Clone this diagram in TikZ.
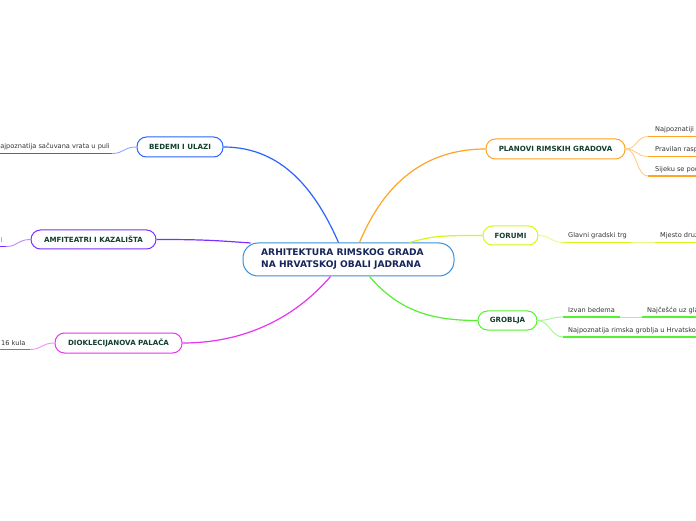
\documentclass[tikz,border=0pt]{standalone}
\usepackage{fontspec}
\setmainfont{DejaVu Sans}
\definecolor{cblue}{HTML}{2B63FF}
\definecolor{cpurple}{HTML}{7B30FF}
\definecolor{cmag}{HTML}{E834F2}
\definecolor{corange}{HTML}{FFA424}
\definecolor{cyellow}{HTML}{D8F51E}
\definecolor{cgreen}{HTML}{55F030}
\definecolor{ccentral}{HTML}{3A8FD8}
\definecolor{ctext}{HTML}{16255A}
\definecolor{ttext}{HTML}{123F2E}
\definecolor{stext}{HTML}{333333}
\tikzset{
  topic/.style={draw=#1, line width=1pt, fill=white, rounded corners=9.5pt, inner sep=0pt,
    font=\fontsize{7.1}{8}\selectfont\bfseries, text=ttext},
  mainbox/.style={draw=ccentral, line width=1pt, fill=white, rounded corners=15pt, inner sep=0pt,
    minimum width=211pt, minimum height=33pt},
  maintext/.style={align=left, inner sep=0pt, text=ctext, font=\fontsize{9.1}{12}\selectfont\bfseries},
  branch/.style={draw=#1, line width=1.2pt},
  subcon/.style={draw=#1!55!white, line width=0.9pt},
  uline/.style={draw=#1, line width=1.9pt},
  subtxt/.style={font=\fontsize{6.6}{7.5}\selectfont, text=stext, inner sep=0pt, anchor=base west}
}
\begin{document}
\begin{tikzpicture}[x=1pt,y=1pt]
\useasboundingbox (0,0) rectangle (696,520);
\clip (0,0) rectangle (696,520);
\fill[white] (0,0) rectangle (696,520);

% central node
\node[mainbox] (ctr) at (348.5,260.5) {};
\node[maintext, anchor=west] (ctrtxt) at (261,260.5) {ARHITEKTURA RIMSKOG GRADA\\NA HRVATSKOJ OBALI JADRANA};

% topic nodes
\node[topic=cblue, minimum width=86pt, minimum height=20pt] (bed) at (180,373) {BEDEMI I ULAZI};
\node[topic=cpurple, minimum width=125pt, minimum height=19pt] (amf) at (93.5,280.5) {AMFITEATRI I KAZALIŠTA};
\node[topic=cmag, minimum width=127pt, minimum height=20pt] (dio) at (118.5,177) {DIOKLECIJANOVA PALAČA};
\node[topic=corange, minimum width=139pt, minimum height=20pt] (plan) at (555.5,371) {PLANOVI RIMSKIH GRADOVA};
\node[topic=cyellow, minimum width=55pt, minimum height=19pt] (for) at (510.5,284.5) {FORUMI};
\node[topic=cgreen, minimum width=59pt, minimum height=19pt] (gro) at (507.5,199.5) {GROBLJA};

% main branches
\draw[branch=cblue] (bed.east) .. controls +(60,0) and +(-22,50) .. ([xshift=96pt]ctr.north west);
\draw[branch=cpurple] (amf.east) .. controls +(40,0) and +(-40,3) .. ([xshift=8pt,yshift=-0.5pt]ctr.north west);
\draw[branch=cmag] (dio.east) .. controls +(70,0) and +(-30,-35) .. ([xshift=88pt]ctr.south west);
\draw[branch=corange] ([xshift=117pt]ctr.north west) .. controls +(25,60) and +(-60,0) .. (plan.west);
\draw[branch=cyellow] ([xshift=167pt]ctr.north west) .. controls +(25,7) and +(-40,0) .. (for.west);
\draw[branch=cgreen] ([xshift=127pt]ctr.south west) .. controls +(30,-35) and +(-45,0) .. (gro.west);

% BEDEMI subtopic
\coordinate (b1e) at (112,366.5);
\coordinate (b1s) at (-2,366.5);
\node[subtxt, anchor=base east] (b1) at (110,371) {Najpoznatija sačuvana vrata u puli};
\draw[uline=cblue] (b1s) -- (b1e);
\draw[subcon=cblue] (bed.west) .. controls +(-13,0) and +(12,0) .. (b1e);

% AMFITEATRI subtopic
\coordinate (a1e) at (6,273.5);
\coordinate (a1s) at (-2,273.5);
\node[subtxt, anchor=base east, text=gray] (a1) at (2.6,277.5) {l};
\draw[uline=cpurple] (a1s) -- (a1e);
\draw[subcon=cpurple] (amf.west) .. controls +(-13,0) and +(12,0) .. (a1e);

% DIOKLECIJANOVA subtopic
\coordinate (d1e) at (30,170.5);
\coordinate (d1s) at (-2,170.5);
\node[subtxt] (d1) at (1,175) {16 kula};
\draw[uline=cmag] (d1s) -- (d1e);
\draw[subcon=cmag] (dio.west) .. controls +(-13,0) and +(12,0) .. (d1e);

% PLANOVI subtopics
\coordinate (p1s) at (648,383.5); \coordinate (p1e) at (698,383.5);
\coordinate (p2s) at (648,363.5); \coordinate (p2e) at (698,363.5);
\coordinate (p3s) at (648,344);   \coordinate (p3e) at (698,344);
\node[subtxt] (p1) at (655,388) {Najpoznatiji primjeri};
\node[subtxt] (p2) at (655,368) {Pravilan raspored ulica};
\node[subtxt] (p3) at (655,348.5) {Sijeku se pod pravim kutom};
\draw[uline=corange] (p1s) -- (p1e);
\draw[uline=corange] (p2s) -- (p2e);
\draw[uline=corange] (p3s) -- (p3e);
\draw[subcon=corange] (plan.east) .. controls +(12,0) and +(-12,0) .. (p1s);
\draw[subcon=corange] (plan.east) .. controls +(12,0) and +(-12,0) .. (p2s);
\draw[subcon=corange] (plan.east) .. controls +(12,0) and +(-12,0) .. (p3s);

% FORUMI subtopics
\coordinate (f1s) at (563,277.5); \coordinate (f1e) at (631,277.5);
\coordinate (f2s) at (655,277.5); \coordinate (f2e) at (698,277.5);
\node[subtxt] (f1) at (568,282) {Glavni gradski trg};
\node[subtxt] (f2) at (660,282) {Mjesto druženja};
\draw[uline=cyellow] (f1s) -- (f1e);
\draw[uline=cyellow] (f2s) -- (f2e);
\draw[subcon=cyellow] (for.east) .. controls +(12,0) and +(-12,0) .. (f1s);
\draw[subcon=cyellow] (f1e) -- (f2s);

% GROBLJA subtopics
\coordinate (g1s) at (563,203); \coordinate (g1e) at (620,203);
\coordinate (g2s) at (642,203); \coordinate (g2e) at (698,203);
\coordinate (g3s) at (563,183); \coordinate (g3e) at (698,183);
\node[subtxt] (g1) at (568,207.5) {Izvan bedema};
\node[subtxt] (g2) at (647,207.5) {Najčešće uz glavne ceste};
\node[subtxt] (g3) at (568,187.5) {Najpoznatija rimska groblja u Hrvatskoj};
\draw[uline=cgreen] (g1s) -- (g1e);
\draw[uline=cgreen] (g2s) -- (g2e);
\draw[uline=cgreen] (g3s) -- (g3e);
\draw[subcon=cgreen] (gro.east) .. controls +(12,0) and +(-12,0) .. (g1s);
\draw[subcon=cgreen] (gro.east) .. controls +(12,0) and +(-12,0) .. (g3s);
\draw[subcon=cgreen] (g1e) -- (g2s);
\end{tikzpicture}
\end{document}
